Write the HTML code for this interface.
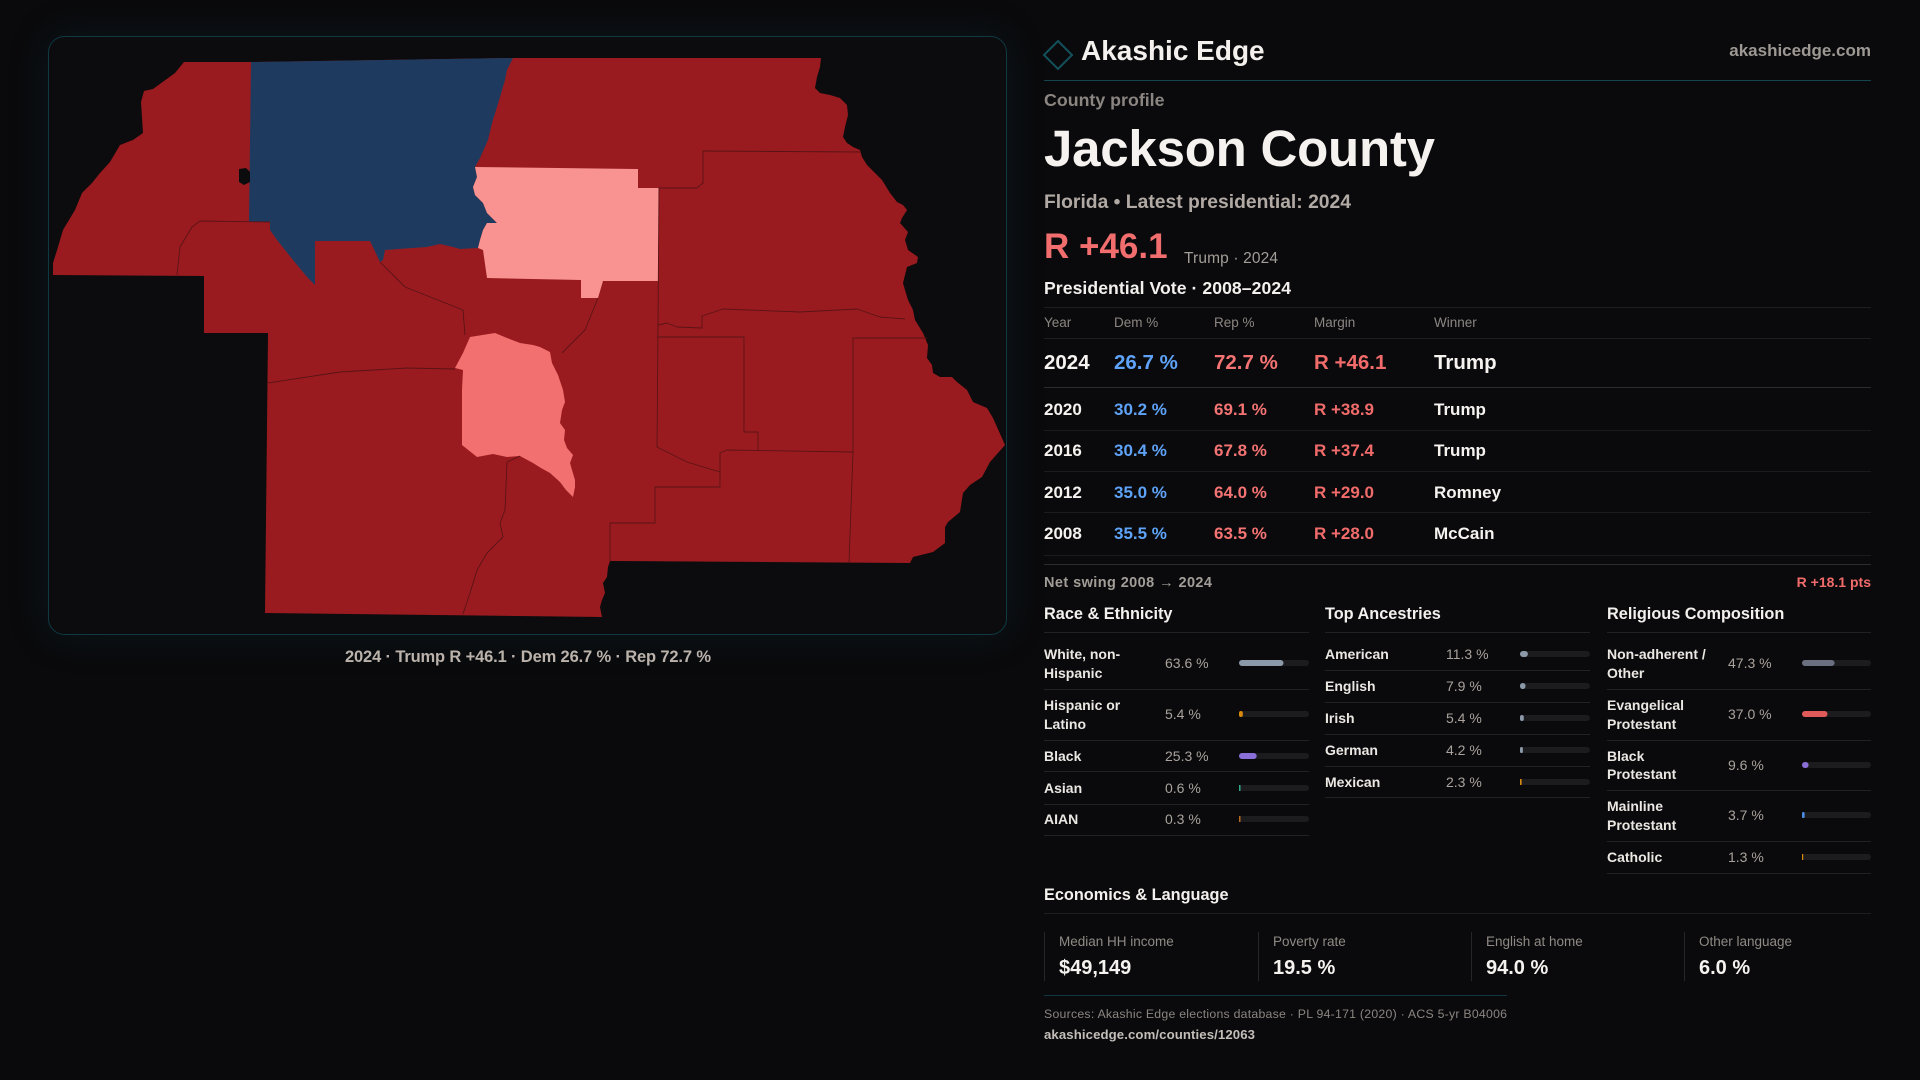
<!DOCTYPE html>
<html><head><meta charset="utf-8"><style>
html,body{margin:0;padding:0;background:#0a0a0c;width:1920px;height:1080px;overflow:hidden}
.glow{position:absolute;left:48px;top:36px;width:959px;height:599px;border-radius:16px;box-shadow:0 0 40px rgba(18,70,85,0.22)}
svg{position:absolute;left:0;top:0}
</style></head><body>
<div class="glow"></div>
<svg width="1920" height="1080" viewBox="0 0 1920 1080" font-family="'Liberation Sans', sans-serif">
<rect x="48.5" y="36.5" width="958" height="598" rx="16" fill="#0c0b0d" stroke="#0f3a44" stroke-width="1"/>
<g stroke-linejoin="round">
<path fill="#9a1b1f" d="M184,62 L251,62 L513,58 L821,58 L820,67 L817,77 L815,88 L820,93 L830,95 L840,98 L847,105 L848,115 L845,127 L843,137 L847,143 L853,147 L860,150 L862,157 L867,165 L877,175 L882,180 L890,193 L897,202 L903,205 L907,210 L902,218 L900,223 L908,232 L905,240 L908,250 L918,257 L917,263 L907,267 L903,283 L905,290 L908,300 L913,310 L915,320 L923,333 L928,345 L927,358 L932,365 L933,373 L940,377 L952,377 L957,382 L967,390 L973,402 L987,408 L993,418 L1005,445 L990,462 L982,477 L970,485 L963,493 L960,512 L948,522 L945,527 L945,543 L933,552 L913,557 L910,563 L610,561 L608,567 L607,577 L603,583 L605,593 L602,600 L600,607 L602,617 L265,613 L268,333 L204,333 L204,276 L53,275 L53,263 L58,247 L63,230 L75,210 L82,193 L92,183 L100,173 L110,162 L120,145 L133,140 L143,133 L141,102 L144,91 L153,89 L175,73 Z"/>
<path fill="#1f3a5f" d="M251,62 L513,58 L507,70 L505,80 L500,97 L497,107 L492,123 L488,140 L480,158 L475,167 L477,177 L473,187 L475,195 L483,203 L487,213 L497,223 L487,223 L483,230 L480,240 L478,248 L460,249 L453,247 L440,244 L427,247 L385,250 L383,260 L380,262 L370,241 L315,241 L315,285 L307,277 L293,260 L277,240 L270,230 L270,222 L249,222 Z"/>
<path fill="#f89391" d="M475,167 L638,169 L638,188 L659,188 L658,281 L603,281 L598,298 L581,298 L581,280 L487,278 L483,250 L478,248 L480,240 L483,230 L487,223 L497,223 L487,213 L483,203 L475,195 L473,187 L477,177 Z"/>
<path fill="#f37070" d="M495,333 L507,338 L520,343 L533,345 L540,347 L550,352 L552,363 L558,375 L563,390 L565,402 L562,410 L560,423 L565,430 L564,440 L567,448 L573,455 L570,463 L572,470 L575,480 L575,487 L573,497 L566,490 L560,482 L550,473 L541,468 L533,463 L520,456 L507,457 L493,454 L477,457 L462,445 L462,390 L463,370 L455,368 L463,353 L470,337 Z"/>
<path fill="#0c0b0d" d="M239,169 L246,168 L250,172 L250,182 L244,185 L239,182 Z"/>
<g fill="none" stroke="#5a1316" stroke-width="0.9">
<path d="M270,222 L200,221 L192,227 L180,247 L177,275"/>
<path d="M380,262 L405,287 L463,310 L465,335"/>
<path d="M598,298 L585,330 L562,353"/>
<path d="M268,383 L340,372 L407,368 L455,369"/>
<path d="M520,456 L507,462 L505,510 L500,523 L503,537 L487,553 L477,570 L470,593 L463,614"/>
<path d="M659,188 L658,325 L657,447 L687,462 L720,472 L720,487 L655,487 L655,523 L610,523 L610,561"/>
<path d="M658,325 L667,323 L677,327 L702,328 L702,316 L723,309 L800,312 L857,309 L880,317 L905,319"/>
<path d="M657,337 L744,337 L744,432 L758,432 L758,450"/>
<path d="M720,472 L720,453 L727,450 L853,452 L849,563"/>
<path d="M853,452 L853,338 L927,338"/>
<path d="M703,151 L860,152"/>
<path d="M703,151 L703,183 L697,188 L659,188"/>
</g>
</g>
<text x="528" y="662" text-anchor="middle" font-size="16.5" font-weight="700" fill="#bab2ab" textLength="366">2024 · Trump R +46.1 · Dem 26.7 % · Rep 72.7 %</text>

<!-- header -->
<polygon points="1058,41 1072,55 1058,69 1044,55" fill="none" stroke="#13505b" stroke-width="2"/>
<text x="1081" y="60" font-size="28" font-weight="700" fill="#f3f0ed">Akashic Edge</text>
<text x="1871" y="56" text-anchor="end" font-size="17" font-weight="700" fill="#9d9893">akashicedge.com</text>
<line x1="1044" y1="80.5" x2="1871" y2="80.5" stroke="#134550" stroke-width="1"/>
<text x="1044" y="106" font-size="17.8" font-weight="700" fill="#8b8581">County profile</text>
<text x="1044" y="166" font-size="51" font-weight="700" fill="#f5f2ef" textLength="391">Jackson County</text>
<text x="1044" y="208" font-size="19.3" font-weight="700" fill="#b1a9a3" textLength="307">Florida • Latest presidential: 2024</text>
<text x="1044" y="258" font-size="35" font-weight="700" fill="#f26d6d">R +46.1</text>
<text x="1184" y="263" font-size="15.5" fill="#a39d98" textLength="94">Trump · 2024</text>
<text x="1044" y="294" font-size="17.6" font-weight="700" fill="#f3f0ed" textLength="247">Presidential Vote · 2008–2024</text>

<!-- table -->
<g stroke-width="1">
<line x1="1044" y1="307.5" x2="1871" y2="307.5" stroke="#1e1e22"/>
<line x1="1044" y1="338.5" x2="1871" y2="338.5" stroke="#1e1e22"/>
<line x1="1044" y1="387.5" x2="1871" y2="387.5" stroke="#2c2c30"/>
<line x1="1044" y1="430.5" x2="1871" y2="430.5" stroke="#1b1b1f"/>
<line x1="1044" y1="471.5" x2="1871" y2="471.5" stroke="#1b1b1f"/>
<line x1="1044" y1="512.5" x2="1871" y2="512.5" stroke="#1b1b1f"/>
<line x1="1044" y1="555.5" x2="1871" y2="555.5" stroke="#1b1b1f"/>
<line x1="1044" y1="564.5" x2="1871" y2="564.5" stroke="#2c2c30"/>
</g>
<g font-size="13.5" fill="#8c8682">
<text x="1044" y="327">Year</text><text x="1114" y="327">Dem %</text><text x="1214" y="327">Rep %</text><text x="1314" y="327">Margin</text><text x="1434" y="327">Winner</text>
</g>
<g font-size="20.5" font-weight="700">
<text x="1044" y="369" fill="#f5f2ef">2024</text><text x="1114" y="369" fill="#5ea3f7">26.7 %</text><text x="1214" y="369" fill="#f47373">72.7 %</text><text x="1314" y="369" fill="#f26b6b">R +46.1</text><text x="1434" y="369" fill="#f5f2ef">Trump</text>
</g>
<g font-size="17" font-weight="700">
<text x="1044" y="415" fill="#f5f2ef">2020</text><text x="1114" y="415" fill="#5ea3f7">30.2 %</text><text x="1214" y="415" fill="#f47373">69.1 %</text><text x="1314" y="415" fill="#f26b6b">R +38.9</text><text x="1434" y="415" fill="#f5f2ef">Trump</text>
<text x="1044" y="456" fill="#f5f2ef">2016</text><text x="1114" y="456" fill="#5ea3f7">30.4 %</text><text x="1214" y="456" fill="#f47373">67.8 %</text><text x="1314" y="456" fill="#f26b6b">R +37.4</text><text x="1434" y="456" fill="#f5f2ef">Trump</text>
<text x="1044" y="498" fill="#f5f2ef">2012</text><text x="1114" y="498" fill="#5ea3f7">35.0 %</text><text x="1214" y="498" fill="#f47373">64.0 %</text><text x="1314" y="498" fill="#f26b6b">R +29.0</text><text x="1434" y="498" fill="#f5f2ef">Romney</text>
<text x="1044" y="539" fill="#f5f2ef">2008</text><text x="1114" y="539" fill="#5ea3f7">35.5 %</text><text x="1214" y="539" fill="#f47373">63.5 %</text><text x="1314" y="539" fill="#f26b6b">R +28.0</text><text x="1434" y="539" fill="#f5f2ef">McCain</text>
</g>
<text x="1044" y="587" font-size="14.5" font-weight="700" fill="#a39d98" textLength="168">Net swing 2008 → 2024</text>
<text x="1871" y="587" text-anchor="end" font-size="14" font-weight="700" fill="#f26b6b">R +18.1 pts</text>

<!-- sections -->
<g font-size="16.3" font-weight="700" fill="#f3f0ed">
<text x="1044" y="619">Race &amp; Ethnicity</text>
<text x="1325" y="619">Top Ancestries</text>
<text x="1607" y="619">Religious Composition</text>
</g>
<g stroke="#222226" stroke-width="1">
<line x1="1044" y1="632.5" x2="1309" y2="632.5"/><line x1="1325" y1="632.5" x2="1590" y2="632.5"/><line x1="1607" y1="632.5" x2="1871" y2="632.5"/>
<line x1="1044" y1="689.5" x2="1309" y2="689.5"/><line x1="1044" y1="740.5" x2="1309" y2="740.5"/><line x1="1044" y1="771.5" x2="1309" y2="771.5"/><line x1="1044" y1="804.5" x2="1309" y2="804.5"/><line x1="1044" y1="835.5" x2="1309" y2="835.5"/>
<line x1="1325" y1="670.5" x2="1590" y2="670.5"/><line x1="1325" y1="702.5" x2="1590" y2="702.5"/><line x1="1325" y1="734.5" x2="1590" y2="734.5"/><line x1="1325" y1="766.5" x2="1590" y2="766.5"/><line x1="1325" y1="797.5" x2="1590" y2="797.5"/>
<line x1="1607" y1="689.5" x2="1871" y2="689.5"/><line x1="1607" y1="740.5" x2="1871" y2="740.5"/><line x1="1607" y1="790.5" x2="1871" y2="790.5"/><line x1="1607" y1="841.5" x2="1871" y2="841.5"/><line x1="1607" y1="873.5" x2="1871" y2="873.5"/>
</g>
<g font-size="14" font-weight="700" fill="#ebe7e3">
<text x="1044" y="659">White, non-</text><text x="1044" y="678">Hispanic</text>
<text x="1044" y="710">Hispanic or</text><text x="1044" y="729">Latino</text>
<text x="1044" y="761">Black</text>
<text x="1044" y="793">Asian</text>
<text x="1044" y="824">AIAN</text>
<text x="1325" y="659">American</text>
<text x="1325" y="691">English</text>
<text x="1325" y="723">Irish</text>
<text x="1325" y="755">German</text>
<text x="1325" y="787">Mexican</text>
<text x="1607" y="659">Non-adherent /</text><text x="1607" y="678">Other</text>
<text x="1607" y="710">Evangelical</text><text x="1607" y="729">Protestant</text>
<text x="1607" y="761">Black</text><text x="1607" y="779">Protestant</text>
<text x="1607" y="811">Mainline</text><text x="1607" y="830">Protestant</text>
<text x="1607" y="862">Catholic</text>
</g>
<g font-size="14" fill="#aaa29c">
<text x="1165" y="668">63.6 %</text><text x="1165" y="719">5.4 %</text><text x="1165" y="761">25.3 %</text><text x="1165" y="793">0.6 %</text><text x="1165" y="824">0.3 %</text>
<text x="1446" y="659">11.3 %</text><text x="1446" y="691">7.9 %</text><text x="1446" y="723">5.4 %</text><text x="1446" y="755">4.2 %</text><text x="1446" y="787">2.3 %</text>
<text x="1728" y="668">47.3 %</text><text x="1728" y="719">37.0 %</text><text x="1728" y="770">9.6 %</text><text x="1728" y="820">3.7 %</text><text x="1728" y="862">1.3 %</text>
</g>
<g fill="#1c1c1f">
<rect x="1239" y="660" width="70" height="6" rx="3"/><rect x="1239" y="711" width="70" height="6" rx="3"/><rect x="1239" y="753" width="70" height="6" rx="3"/><rect x="1239" y="785" width="70" height="6" rx="3"/><rect x="1239" y="816" width="70" height="6" rx="3"/>
<rect x="1520" y="651" width="70" height="6" rx="3"/><rect x="1520" y="683" width="70" height="6" rx="3"/><rect x="1520" y="715" width="70" height="6" rx="3"/><rect x="1520" y="747" width="70" height="6" rx="3"/><rect x="1520" y="779" width="70" height="6" rx="3"/>
<rect x="1802" y="660" width="69" height="6" rx="3"/><rect x="1802" y="711" width="69" height="6" rx="3"/><rect x="1802" y="762" width="69" height="6" rx="3"/><rect x="1802" y="812" width="69" height="6" rx="3"/><rect x="1802" y="854" width="69" height="6" rx="3"/>
</g>
<rect x="1239" y="660" width="44.5" height="6" rx="3" fill="#8c99a8"/>
<rect x="1239" y="711" width="3.8" height="6" rx="1.9" fill="#d88a0c"/>
<rect x="1239" y="753" width="17.7" height="6" rx="3" fill="#8a6fd8"/>
<rect x="1239" y="785" width="1.5" height="6" fill="#2fa88c"/>
<rect x="1239" y="816" width="1.5" height="6" fill="#b86a1e"/>
<rect x="1520" y="651" width="7.9" height="6" rx="3" fill="#8c99a8"/>
<rect x="1520" y="683" width="5.5" height="6" rx="2.7" fill="#8c99a8"/>
<rect x="1520" y="715" width="3.8" height="6" rx="1.9" fill="#8c99a8"/>
<rect x="1520" y="747" width="2.9" height="6" rx="1.4" fill="#8c99a8"/>
<rect x="1520" y="779" width="1.6" height="6" fill="#d88a0c"/>
<rect x="1802" y="660" width="32.6" height="6" rx="3" fill="#6a7080"/>
<rect x="1802" y="711" width="25.5" height="6" rx="3" fill="#e05a5a"/>
<rect x="1802" y="762" width="6.6" height="6" rx="3" fill="#8a6fd8"/>
<rect x="1802" y="812" width="2.6" height="6" rx="1.3" fill="#4a8ee6"/>
<rect x="1802" y="854" width="1.2" height="6" fill="#d88a0c"/>

<!-- economics -->
<text x="1044" y="900" font-size="16.3" font-weight="700" fill="#f3f0ed">Economics &amp; Language</text>
<line x1="1044" y1="913.5" x2="1871" y2="913.5" stroke="#1e1e22"/>
<g stroke="#26262a" stroke-width="1">
<line x1="1044.5" y1="932" x2="1044.5" y2="981"/><line x1="1258.5" y1="932" x2="1258.5" y2="981"/><line x1="1471.5" y1="932" x2="1471.5" y2="981"/><line x1="1684.5" y1="932" x2="1684.5" y2="981"/>
</g>
<g font-size="13.5" fill="#8f8a85">
<text x="1059" y="946">Median HH income</text><text x="1273" y="946">Poverty rate</text><text x="1486" y="946">English at home</text><text x="1699" y="946">Other language</text>
</g>
<g font-size="20" font-weight="700" fill="#f5f2ef">
<text x="1059" y="974">$49,149</text><text x="1273" y="974">19.5 %</text><text x="1486" y="974">94.0 %</text><text x="1699" y="974">6.0 %</text>
</g>
<line x1="1044" y1="995.5" x2="1507" y2="995.5" stroke="#12363f"/>
<text x="1044" y="1018" font-size="12.3" fill="#8b8580" textLength="463">Sources: Akashic Edge elections database · PL 94-171 (2020) · ACS 5-yr B04006</text>
<text x="1044" y="1039" font-size="13.2" font-weight="700" fill="#c4beb9" textLength="211">akashicedge.com/counties/12063</text>
</svg>
</body></html>
